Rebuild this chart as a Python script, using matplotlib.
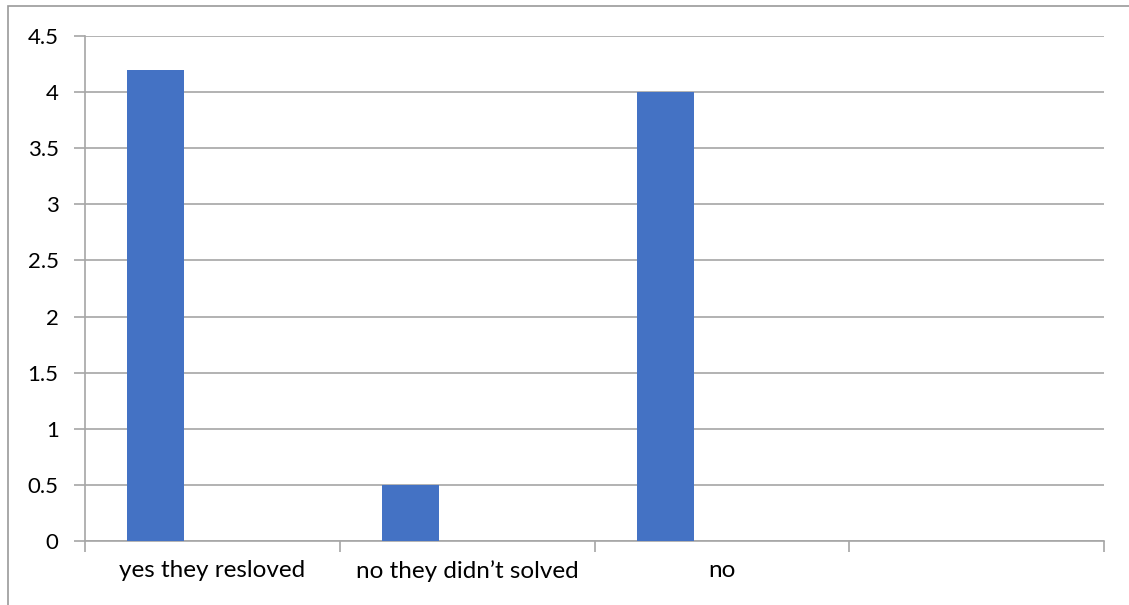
import matplotlib.pyplot as plt
from matplotlib.patches import Rectangle
import numpy as np

categories = ["yes they resloved", "no they didn\u2019t solved", "no", ""]
counts = [4.2, 0.5, 4.0, 0]
y_ticks = [0, 0.5, 1, 1.5, 2, 2.5, 3, 3.5, 4, 4.5]

bar_color = "#4472C4"
grid_color = "#a6a6a6"

plt.rcParams['font.family'] = ['Lato', 'DejaVu Sans']

fig = plt.figure(figsize=(11.29, 6.05), dpi=100)
ax = fig.add_axes([85 / 1129, 1 - 541 / 605, (1104 - 85) / 1129, (541 - 36) / 605])

# clustered-column layout: first of three series slots, gap width 150%
n = len(categories)
slot_w = 1 / 4.5
x = np.arange(n)
bar_x = x - 0.5 + 0.75 * slot_w
ax.bar(bar_x[:3], counts[:3], width=slot_w, align="edge", color=bar_color, zorder=3)

ax.set_xlim(-0.5, n - 0.5)
ax.set_ylim(0, 4.5)
ax.set_yticks(y_ticks)
ax.set_yticklabels([f"{v:g}" for v in y_ticks])
ax.yaxis.grid(True, color=grid_color, linewidth=1.2, zorder=0)

# category boundaries get the tick marks, labels sit at slot centres
ax.set_xticks(np.arange(n + 1) - 0.5)
ax.set_xticklabels([])
ax.set_xticks(x, minor=True)
ax.set_xticklabels(categories, minor=True)
ax.tick_params(axis="x", which="major", length=8, color=grid_color, width=1.2)
ax.tick_params(axis="x", which="minor", length=0, pad=14, labelsize=17.5)
ax.tick_params(axis="y", length=8, color=grid_color, width=1.2, labelsize=16, pad=11)

for side in ["top", "right"]:
    ax.spines[side].set_visible(False)
ax.spines["left"].set_color(grid_color)
ax.spines["bottom"].set_color(grid_color)
ax.spines["left"].set_linewidth(1.2)
ax.spines["bottom"].set_linewidth(1.2)

# outer chart frame
fig.patches.append(Rectangle((8 / 1129, -0.1), 1.2, 1 - 6 / 605 + 0.1,
                             transform=fig.transFigure, fill=False,
                             edgecolor="#999999", linewidth=1.2))

fig.savefig("out.png", dpi=100)
